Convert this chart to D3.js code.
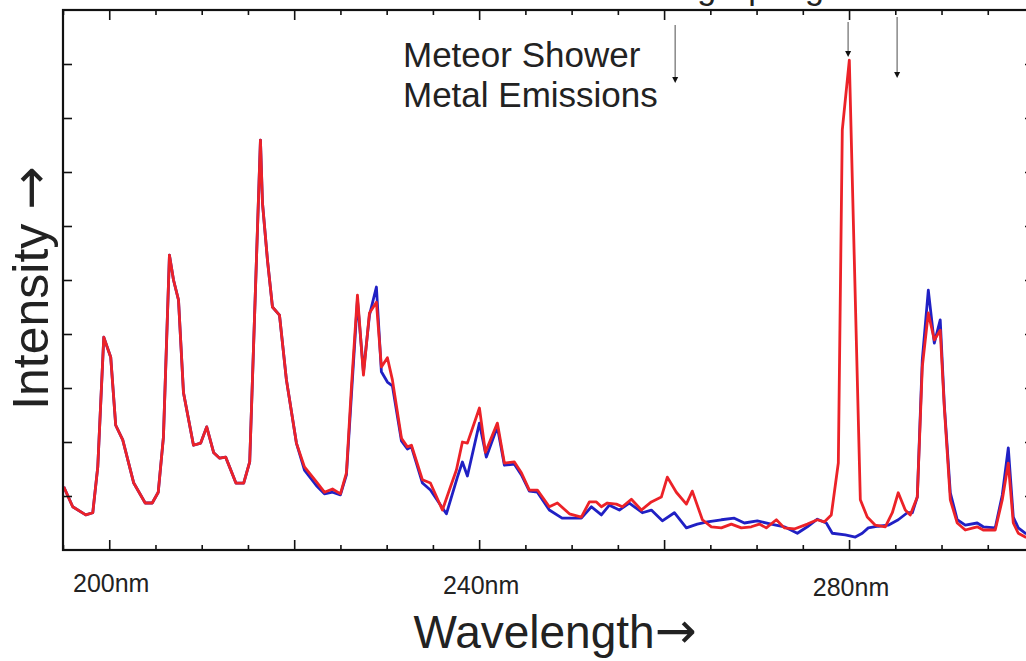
<!DOCTYPE html>
<html>
<head>
<meta charset="utf-8">
<script src="https://cdn.jsdelivr.net/npm/d3@7"></script>
<style>
  body { margin: 0; background: #fff; }
  svg { display: block; font-family: "Liberation Sans", Arial, sans-serif; }
</style>
</head>
<body>
<svg id="chart" width="1026" height="661"></svg>
<script>
// red spectrum (with meteor metal emissions)
const redNm = [195.08, 196.05, 197.46, 198.22, 198.76, 199.41, 200.16, 200.70, 201.46, 202.65,
  203.89, 204.65, 205.30, 205.86, 206.51, 206.95, 207.49, 208.03, 209.11, 209.89,
  210.54, 211.30, 211.94, 212.59, 213.70, 214.54, 215.19, 216.35, 216.57, 217.11,
  217.65, 218.41, 219.16, 220.24, 221.11, 222.41, 223.27, 224.14, 225.00, 225.65,
  226.19, 226.84, 227.49, 228.14, 228.89, 229.43, 230.08, 230.62, 231.60, 232.24,
  232.68, 233.87, 234.73, 236.03, 236.78, 237.54, 238.19, 238.73, 240.03, 240.68,
  241.97, 242.73, 243.81, 244.57, 245.43, 246.30, 247.59, 248.46, 249.76, 251.05,
  251.92, 252.68, 253.22, 253.86, 254.84, 255.49, 256.46, 257.54, 258.62, 259.70,
  260.35, 261.32, 262.41, 263.05, 264.14, 265.11, 266.19, 267.27, 268.35, 269.43,
  270.30, 271.05, 272.14, 273.00, 274.08, 275.49, 276.57, 277.32, 278.08, 278.84,
  279.27, 280.03, 281.22, 281.97, 282.84, 283.92, 284.68, 285.32, 286.08, 286.62,
  287.38, 287.92, 288.57, 289.22, 289.86, 290.30, 290.95, 291.70, 292.57, 293.43,
  293.86, 294.51, 295.81, 296.57, 297.22, 297.76, 298.30, 299.05, 299.92];
const redIntensity = [1.17, 0.80, 0.65, 0.69, 1.54, 3.94, 3.57, 2.31, 2.04, 1.24,
  0.87, 0.87, 1.07, 2.09, 5.46, 5.00, 4.63, 2.91, 1.94, 1.98,
  2.28, 1.80, 1.70, 1.72, 1.24, 1.24, 1.63, 7.59, 6.43, 5.37,
  4.50, 4.35, 3.15, 1.98, 1.54, 1.26, 1.07, 1.13, 1.04, 1.43,
  3.02, 4.72, 3.24, 4.39, 4.59, 3.39, 3.56, 3.15, 2.07, 1.91,
  1.94, 1.30, 1.24, 0.74, 1.11, 1.48, 2.00, 1.98, 2.63, 1.81,
  2.35, 1.61, 1.63, 1.43, 1.11, 1.11, 0.80, 0.87, 0.67, 0.61,
  0.89, 0.89, 0.80, 0.87, 0.85, 0.80, 0.94, 0.74, 0.89, 0.98,
  1.35, 1.07, 0.85, 1.09, 0.56, 0.43, 0.41, 0.48, 0.41, 0.43,
  0.48, 0.41, 0.56, 0.41, 0.39, 0.48, 0.56, 0.52, 0.65, 1.61,
  7.78, 9.07, 0.93, 0.61, 0.46, 0.43, 0.69, 1.06, 0.74, 0.65,
  0.98, 3.39, 4.39, 3.89, 4.07, 2.65, 0.93, 0.50, 0.37, 0.41,
  0.43, 0.37, 0.37, 0.93, 1.61, 0.50, 0.31, 0.24, 0.22];

// blue spectrum (reference)
const blueNm = [195.08, 196.05, 197.46, 198.22, 198.76, 199.41, 200.16, 200.70, 201.46, 202.65,
  203.89, 204.65, 205.30, 205.86, 206.51, 206.95, 207.49, 208.03, 209.11, 209.89,
  210.54, 211.30, 211.94, 212.59, 213.70, 214.54, 215.19, 216.35, 216.57, 217.11,
  217.65, 218.41, 219.16, 220.24, 221.11, 222.41, 223.27, 224.14, 225.00, 225.65,
  226.19, 226.84, 227.49, 228.14, 228.89, 229.43, 230.08, 230.62, 231.60, 232.24,
  232.68, 233.87, 234.73, 236.46, 237.65, 238.19, 238.73, 240.03, 240.78, 241.97,
  242.73, 243.81, 244.57, 245.43, 246.30, 247.59, 248.97, 251.05, 252.14, 253.22,
  254.08, 255.16, 256.24, 257.65, 258.62, 259.81, 261.11, 262.41, 263.59, 264.68,
  266.19, 267.59, 268.68, 270.08, 271.57, 273.00, 274.41, 275.49, 276.57, 277.54,
  278.19, 279.59, 280.68, 281.43, 282.08, 283.16, 284.24, 285.32, 286.30, 286.84,
  287.38, 287.92, 288.57, 289.22, 289.86, 290.30, 290.95, 291.70, 292.57, 293.86,
  294.51, 295.81, 296.57, 297.22, 297.76, 298.30, 299.05, 299.92];
const blueIntensity = [1.17, 0.80, 0.65, 0.69, 1.54, 3.94, 3.57, 2.31, 2.04, 1.24,
  0.87, 0.87, 1.07, 2.09, 5.46, 5.00, 4.63, 2.91, 1.94, 1.98,
  2.28, 1.80, 1.70, 1.72, 1.24, 1.24, 1.63, 7.59, 6.43, 5.37,
  4.50, 4.35, 3.15, 1.98, 1.48, 1.19, 1.04, 1.07, 1.02, 1.39,
  2.87, 4.63, 3.30, 4.35, 4.87, 3.30, 3.11, 3.04, 2.02, 1.87,
  1.91, 1.24, 1.11, 0.67, 1.35, 1.63, 1.37, 2.35, 1.72, 2.28,
  1.57, 1.59, 1.39, 1.09, 1.07, 0.74, 0.59, 0.59, 0.80, 0.65,
  0.83, 0.74, 0.87, 0.69, 0.74, 0.54, 0.69, 0.41, 0.48, 0.52,
  0.56, 0.59, 0.50, 0.54, 0.48, 0.43, 0.31, 0.43, 0.57, 0.50,
  0.31, 0.28, 0.24, 0.31, 0.41, 0.44, 0.46, 0.56, 0.69, 0.69,
  0.98, 3.52, 4.81, 3.83, 4.26, 2.69, 1.06, 0.56, 0.46, 0.50,
  0.43, 0.41, 1.02, 1.89, 0.61, 0.41, 0.31, 0.28];

const majorTicks = [200, 220, 240, 260, 280, 300];
const minorTicks = d3.range(195, 301, 5).filter(d => !majorTicks.includes(d));
const tickLabels = ["200nm", "240nm", "280nm"];
const tickLabelNm = [200, 240, 280];
const intensityTicks = [1, 2, 3, 4, 5, 6, 7, 8, 9];

// emission line markers (nm)
const markerNm = [261.2, 279.9, 285.2];

const svg = d3.select("#chart");
const m = { left: 63, right: 1034, top: 10, bottom: 550 };

const x = d3.scaleLinear().domain([195, 300]).range([m.left, m.right]);
const y = d3.scaleLinear().domain([0, 10]).range([m.bottom, m.top]);

svg.append("clipPath").attr("id", "clip")
  .append("rect").attr("x", m.left).attr("y", m.top)
  .attr("width", m.right - m.left).attr("height", m.bottom - m.top);

const line = d3.line().x(d => x(d[0])).y(d => y(d[1]));

const blueData = blueNm.map((n, i) => [n, blueIntensity[i]]);
const redData = redNm.map((n, i) => [n, redIntensity[i]]);

const curves = svg.append("g").attr("clip-path", "url(#clip)");
curves.append("path").datum(blueData)
  .attr("d", line).attr("fill", "none")
  .attr("stroke", "#2020c4").attr("stroke-width", 2.8).attr("stroke-linejoin", "round");
curves.append("path").datum(redData)
  .attr("d", line).attr("fill", "none")
  .attr("stroke", "#ec2228").attr("stroke-width", 2.8).attr("stroke-linejoin", "round");

// axes, all ticks pointing inward
function styleAxis(g) {
  g.select(".domain").remove();
  g.selectAll(".tick line").attr("stroke", "#111").attr("stroke-width", 1.6);
  g.selectAll(".tick text").remove();
}
svg.append("g").attr("transform", `translate(0,${m.bottom})`)
  .call(d3.axisTop(x).tickValues(minorTicks).tickSize(5)).call(styleAxis);
svg.append("g").attr("transform", `translate(0,${m.bottom})`)
  .call(d3.axisTop(x).tickValues(majorTicks).tickSize(10)).call(styleAxis);
svg.append("g").attr("transform", `translate(0,${m.top})`)
  .call(d3.axisBottom(x).tickValues(minorTicks).tickSize(5)).call(styleAxis);
svg.append("g").attr("transform", `translate(0,${m.top})`)
  .call(d3.axisBottom(x).tickValues(majorTicks).tickSize(10)).call(styleAxis);
svg.append("g").attr("transform", `translate(${m.left},0)`)
  .call(d3.axisRight(y).tickValues(intensityTicks).tickSize(9)).call(styleAxis);
svg.append("g").attr("transform", `translate(${m.right},0)`)
  .call(d3.axisLeft(y).tickValues(intensityTicks).tickSize(9)).call(styleAxis);

svg.append("rect")
  .attr("x", m.left).attr("y", m.top).attr("width", m.right - m.left).attr("height", m.bottom - m.top)
  .attr("fill", "none").attr("stroke", "#111").attr("stroke-width", 2.2);

// tick labels
svg.append("g").selectAll("text").data(tickLabels).join("text")
  .attr("x", (d, i) => x(tickLabelNm[i]) + 2)
  .attr("y", (d, i) => 592 + i * 2)
  .attr("text-anchor", "middle")
  .attr("font-size", 25)
  .attr("fill", "#222")
  .text(d => d);

// axis titles, the arrow glyph from DejaVu is bigger and bolder
const xTitle = svg.append("text")
  .attr("x", 555).attr("y", 648)
  .attr("text-anchor", "middle").attr("font-size", 46).attr("fill", "#222");
xTitle.append("tspan").text("Wavelength");
xTitle.append("tspan").attr("font-family", "DejaVu Sans").attr("font-size", 50).text("→");

const yTitle = svg.append("text")
  .attr("transform", "translate(48,288) rotate(-90)")
  .attr("text-anchor", "middle").attr("font-size", 50).attr("fill", "#222");
yTitle.append("tspan").text("Intensity ");
yTitle.append("tspan").attr("font-family", "DejaVu Sans").attr("font-size", 52).text("→");

// annotation
svg.append("text").attr("x", 403).attr("y", 67)
  .attr("font-size", 35).attr("fill", "#222").text("Meteor Shower");
svg.append("text").attr("x", 403).attr("y", 107)
  .attr("font-size", 35).attr("fill", "#222").text("Metal Emissions");

// title above the frame, cropped in the source picture
svg.append("text").attr("x", 720).attr("y", -1)
  .attr("text-anchor", "middle").attr("font-size", 34).attr("fill", "#222")
  .text("During Spring");

// marker arrows
const arrowEnds = [83, 57, 78];
const arrowStarts = [25, 22, 17];
const arrows = svg.append("g").selectAll("g").data(markerNm).join("g");
arrows.append("line")
  .attr("x1", d => x(d)).attr("x2", d => x(d))
  .attr("y1", (d, i) => arrowStarts[i]).attr("y2", (d, i) => arrowEnds[i] - 4)
  .attr("stroke", "#888").attr("stroke-width", 1.5);
arrows.append("path")
  .attr("d", (d, i) => `M${x(d) - 3},${arrowEnds[i] - 6} L${x(d) + 3},${arrowEnds[i] - 6} L${x(d)},${arrowEnds[i]} Z`)
  .attr("fill", "#111");
</script>
</body>
</html>
